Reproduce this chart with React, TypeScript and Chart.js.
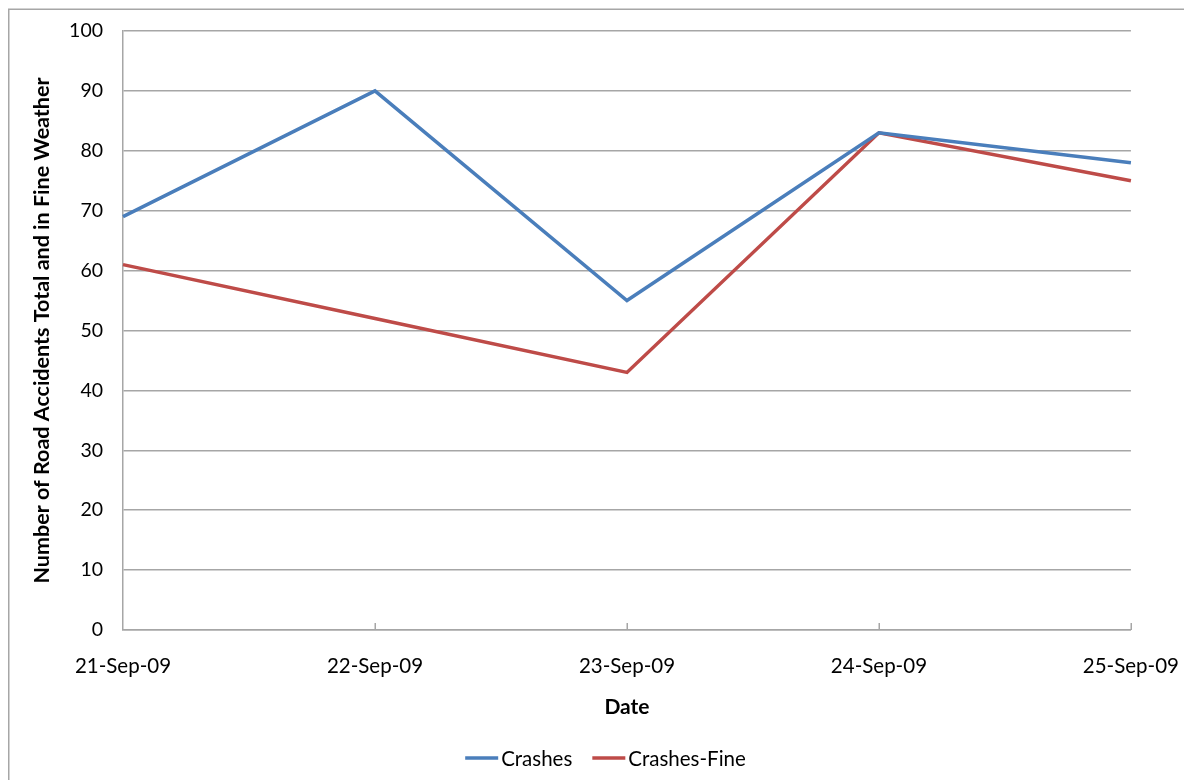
import { useEffect, useRef } from "react";
import { Chart, registerables } from "chart.js";

Chart.register(...registerables);

const dates = ["21-Sep-09", "22-Sep-09", "23-Sep-09", "24-Sep-09", "25-Sep-09"];
const crashes = [69, 90, 55, 83, 78];
const crashesFine = [61, 52, 43, 83, 75];
const seriesNames = ["Crashes", "Crashes-Fine"];
const seriesColors = ["#4a7ebb", "#be4b48"];
const yMin = 0;
const yMax = 100;
const yStep = 10;

const FONT = "Lato, 'Open Sans', sans-serif";
const GRID = "#a6a6a6";
const CANVAS_W = 1195;
const CANVAS_H = 780;

// Frame around the whole chart area
const framePlugin = {
  id: "frame",
  beforeDraw(chart: any) {
    const ctx = chart.ctx;
    ctx.save();
    ctx.fillStyle = "#ffffff";
    ctx.fillRect(0, 0, chart.width, chart.height);
    ctx.strokeStyle = GRID;
    ctx.lineWidth = 1.5;
    ctx.strokeRect(0.75, 1.25, chart.width - 2, chart.height - 2);
    ctx.restore();
  },
};

// Small category tick marks pointing up from the x axis
const innerTicksPlugin = {
  id: "innerTicks",
  afterDraw(chart: any) {
    const x = chart.scales.x;
    const ctx = chart.ctx;
    const bottom = chart.chartArea.bottom;
    ctx.save();
    ctx.strokeStyle = GRID;
    ctx.lineWidth = 1.5;
    for (let i = 1; i < x.ticks.length; i++) {
      const px = Math.round(x.getPixelForTick(i)) + 0.25;
      ctx.beginPath();
      ctx.moveTo(px, bottom);
      ctx.lineTo(px, bottom - 7);
      ctx.stroke();
    }
    ctx.restore();
  },
};

// Legend row drawn under the axis title
const legendRowPlugin = {
  id: "legendRow",
  afterDraw(chart: any) {
    const ctx = chart.ctx;
    const y = 750;
    const lineLen = 33;
    const textGap = 3;
    const itemGap = 20;
    ctx.save();
    ctx.font = `20.5px ${FONT}`;
    ctx.textBaseline = "middle";
    const widths = seriesNames.map((n) => lineLen + textGap + ctx.measureText(n).width);
    const total = widths.reduce((a, b) => a + b, 0) + itemGap * (seriesNames.length - 1);
    let x = chart.width / 2 - total / 2;
    seriesNames.forEach((name, i) => {
      ctx.strokeStyle = seriesColors[i];
      ctx.lineWidth = 3.5;
      ctx.beginPath();
      ctx.moveTo(x, y);
      ctx.lineTo(x + lineLen, y);
      ctx.stroke();
      ctx.fillStyle = "#000000";
      ctx.fillText(name, x + lineLen + textGap, y + 1);
      x += widths[i] + itemGap;
    });
    ctx.restore();
  },
};

export default function App() {
  const canvasRef = useRef<HTMLCanvasElement | null>(null);

  useEffect(() => {
    document.documentElement.style.overflow = "hidden";
    document.body.style.overflow = "hidden";
    const canvas = canvasRef.current;
    if (!canvas) return;
    const chart = new Chart(canvas, {
      type: "line",
      data: {
        labels: dates,
        datasets: [
          {
            label: seriesNames[0],
            data: crashes,
            borderColor: seriesColors[0],
            backgroundColor: seriesColors[0],
            borderWidth: 3.5,
            pointRadius: 0,
            tension: 0,
          },
          {
            label: seriesNames[1],
            data: crashesFine,
            borderColor: seriesColors[1],
            backgroundColor: seriesColors[1],
            borderWidth: 3.5,
            pointRadius: 0,
            tension: 0,
          },
        ],
      },
      options: {
        responsive: false,
        animation: false,
        devicePixelRatio: 1,
        layout: { padding: { top: 23, right: 71, bottom: 58, left: 0 } },
        plugins: {
          legend: { display: false },
          tooltip: { enabled: false },
        },
        scales: {
          x: {
            offset: false,
            grid: { display: false, drawTicks: false },
            border: { display: true, color: GRID, width: 1.5 },
            ticks: {
              color: "#000000",
              font: { family: FONT, size: 20.5 },
              padding: 24,
              maxRotation: 0,
              autoSkip: false,
            },
            title: {
              display: true,
              text: "Date",
              color: "#000000",
              font: { family: FONT, size: 21, weight: "bold" },
              padding: { top: 0, bottom: 10 },
            },
            afterFit(scale: any) {
              scale.height = 100;
            },
          },
          y: {
            min: yMin,
            max: yMax,
            grid: { color: GRID, lineWidth: 1.5, drawTicks: false },
            border: { display: true, color: GRID, width: 1.5 },
            ticks: {
              stepSize: yStep,
              color: "#000000",
              font: { family: FONT, size: 19.5 },
              padding: 20,
            },
            title: {
              display: true,
              text: "Number of Road Accidents Total and in Fine Weather",
              color: "#000000",
              font: { family: FONT, size: 21.5, weight: "bold" },
              padding: { top: 21, bottom: 0 },
            },
            afterFit(scale: any) {
              scale.width = 115;
              scale.paddingTop = 0;
              scale.paddingBottom = 0;
            },
          },
        },
      },
      plugins: [framePlugin, innerTicksPlugin, legendRowPlugin],
    });
    return () => chart.destroy();
  }, []);

  return (
    <div style={{ width: 1184, height: 772, overflow: "hidden" }}>
      <canvas ref={canvasRef} width={CANVAS_W} height={CANVAS_H} style={{ display: "block" }} />
    </div>
  );
}
